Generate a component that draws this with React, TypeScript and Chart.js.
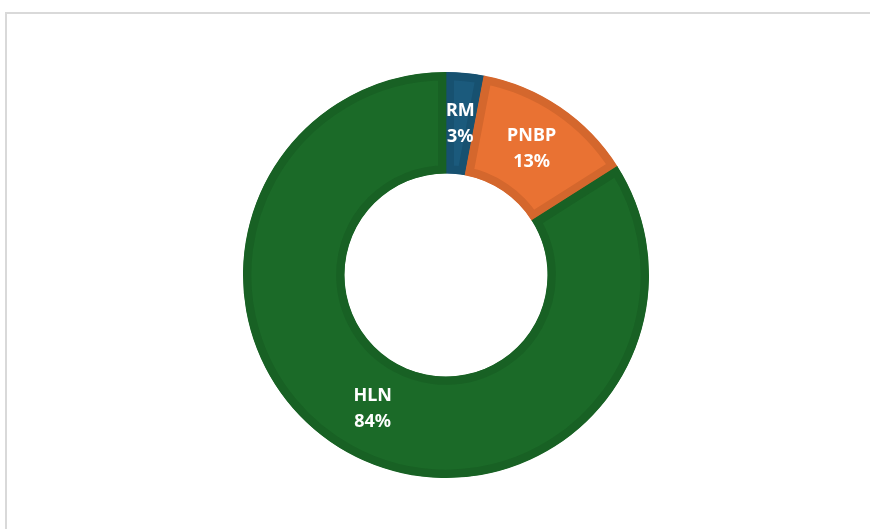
import React, { useEffect, useRef } from "react";
import { Chart, registerables } from "chart.js";

Chart.register(...registerables);

const categories = ["RM", "PNBP", "HLN"];
const values = [3, 13, 84];
const fillColors = ["#1b5a7c", "#e97233", "#1b6a28"];
const borderColors = ["#175170", "#d4672d", "#186124"];

const labelPlugin = {
  id: "sliceLabels",
  afterDatasetsDraw(chart: any) {
    const ctx = chart.ctx;
    const meta = chart.getDatasetMeta(0);
    const total = values.reduce((a, b) => a + b, 0);
    ctx.save();
    ctx.fillStyle = "#ffffff";
    ctx.font = "bold 18px 'Noto Sans', sans-serif";
    ctx.textAlign = "center";
    ctx.textBaseline = "middle";
    meta.data.forEach((arc: any, i: number) => {
      const p = arc.tooltipPosition();
      const pct = Math.round((values[i] / total) * 100) + "%";
      ctx.fillText(categories[i], p.x, p.y - 13);
      ctx.fillText(pct, p.x, p.y + 13);
    });
    ctx.restore();
  },
};

export default function App() {
  const ref = useRef<HTMLCanvasElement>(null);
  useEffect(() => {
    if (!ref.current) return;
    const chart = new Chart(ref.current, {
      type: "doughnut",
      data: {
        labels: categories,
        datasets: [
          {
            data: values,
            backgroundColor: fillColors,
            borderColor: borderColors,
            borderWidth: 8,
            borderAlign: "inner",
          } as any,
        ],
      },
      options: {
        animation: false,
        responsive: true,
        maintainAspectRatio: false,
        cutout: "50%",
        layout: { padding: { top: 72, bottom: 51, left: 22, right: 0 } },
        plugins: {
          legend: { display: false },
          tooltip: { enabled: false },
        },
      },
      plugins: [labelPlugin],
    });
    return () => chart.destroy();
  }, []);

  return (
    <div style={{ position: "absolute", left: 0, top: 0, width: 870, height: 529, overflow: "hidden", background: "#fff" }}>
      <div
        style={{
          position: "absolute",
          left: 5,
          top: 12,
          width: 900,
          height: 560,
          border: "2px solid #d9d9d9",
          boxSizing: "border-box",
        }}
      />
      <div style={{ position: "absolute", left: 0, top: 0, width: 870, height: 529 }}>
        <canvas ref={ref} />
      </div>
    </div>
  );
}
